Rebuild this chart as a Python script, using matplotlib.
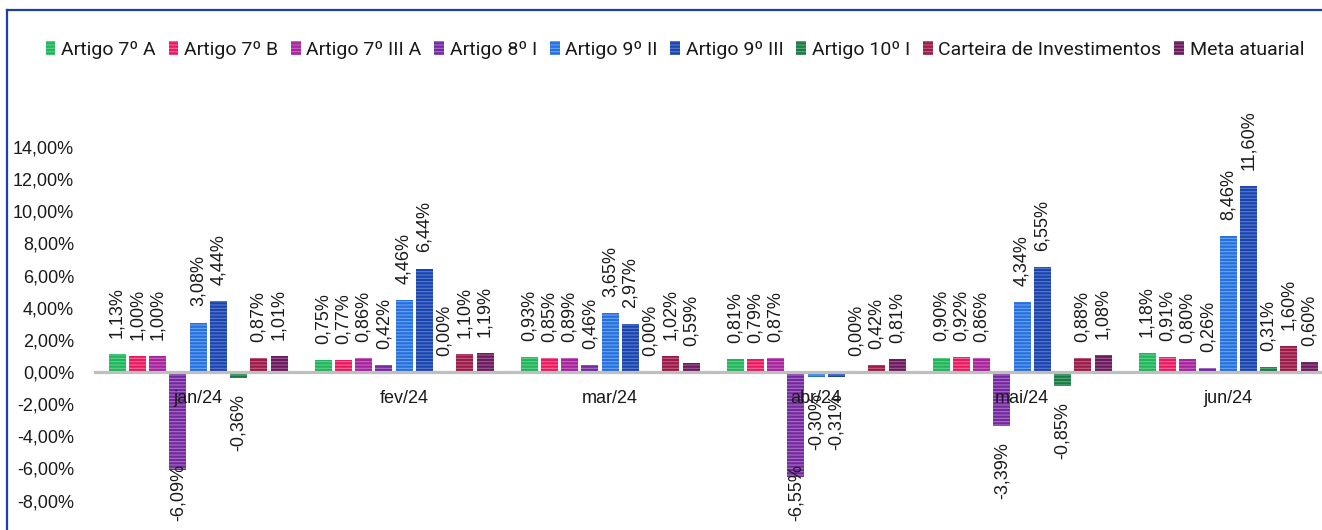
import numpy as np
import matplotlib
matplotlib.use("Agg")
import matplotlib.pyplot as plt
from matplotlib.patches import Patch
from matplotlib.lines import Line2D
from matplotlib.ticker import FuncFormatter

meses = ["jan/24", "fev/24", "mar/24", "abr/24", "mai/24", "jun/24"]
series = ["Artigo 7º A", "Artigo 7º B", "Artigo 7º III A", "Artigo 8º I", "Artigo 9º II",
          "Artigo 9º III", "Artigo 10º I", "Carteira de Investimentos", "Meta atuarial"]

art_7a = [1.13, 0.75, 0.93, 0.81, 0.90, 1.18]
art_7b = [1.00, 0.77, 0.85, 0.79, 0.92, 0.91]
art_7iiia = [1.00, 0.86, 0.89, 0.87, 0.86, 0.80]
art_8i = [-6.09, 0.42, 0.46, -6.55, -3.39, 0.26]
art_9ii = [3.08, 4.46, 3.65, -0.30, 4.34, 8.46]
art_9iii = [4.44, 6.44, 2.97, -0.31, 6.55, 11.60]
art_10i = [-0.36, 0.00, 0.00, 0.00, -0.85, 0.31]
carteira = [0.87, 1.10, 1.02, 0.42, 0.88, 1.60]
meta = [1.01, 1.19, 0.59, 0.81, 1.08, 0.60]

valores = [art_7a, art_7b, art_7iiia, art_8i, art_9ii, art_9iii, art_10i, carteira, meta]
cores = ["#22B45C", "#E9185F", "#A6239C", "#75289E", "#2470DE",
         "#1C44AE", "#1D7A45", "#9A1A48", "#6C1A5E"]
listras = ["#5FCF88", "#F26A98", "#C468BC", "#A273C4", "#6FA4EE",
           "#5A7CCC", "#5AA87B", "#BE5F80", "#985C8E"]

plt.rcParams["font.family"] = ["Liberation Sans", "DejaVu Sans"]
plt.rcParams["hatch.linewidth"] = 0.8
texto = "#1a1a1a"

W, H = 1322, 530
fig = plt.figure(figsize=(W / 100, H / 100), dpi=100)

x0_px, zero_px, top_px, step_px = 95, 372, 147, 206
ppu = (zero_px - top_px) / 14.0
ax = fig.add_axes([x0_px / W, 0, 1 - x0_px / W, (H - top_px) / H])
ax.set_xlim(-0.5, -0.5 + (W - x0_px) / step_px)
ax.set_ylim(-(H - zero_px) / ppu, 14)
ax.set_axisbelow(False)

x = np.arange(len(meses))
slot = 20.25 / step_px
larg = 17 / step_px
gap = 1.0
comp = 3.95
piso = ax.get_ylim()[0] + 0.15

for j, (vals, c, lc) in enumerate(zip(valores, cores, listras)):
    pos = x + (j - 4) * slot
    ax.bar(pos, vals, width=larg, color=c, edgecolor=lc, linewidth=0,
           hatch="-----", zorder=1)
    for px, v in zip(pos, vals):
        s = f"{v:.2f}%".replace(".", ",")
        if v >= 0:
            ax.text(px, v + gap, s, rotation=90, ha="center", va="bottom",
                    fontsize=13, color=texto, clip_on=False, zorder=4)
        else:
            yt = max(v - gap, piso + comp)
            ax.text(px, yt, s, rotation=90, ha="center", va="top",
                    fontsize=13, color=texto, clip_on=False, zorder=4)

ax.set_yticks(np.arange(-8, 15, 2))
ax.yaxis.set_major_formatter(FuncFormatter(lambda v, p: f"{v:.2f}%".replace(".", ",")))
ax.tick_params(axis="y", length=0, pad=15, labelsize=13, labelcolor=texto)
ax.set_xticks(x)
ax.set_xticklabels(meses)
ax.tick_params(axis="x", length=0, pad=13, labelsize=13, labelcolor=texto)

for s in ["top", "right", "left"]:
    ax.spines[s].set_visible(False)
ax.spines["bottom"].set_position(("data", 0))
ax.spines["bottom"].set_color("#BFBFBF")
ax.spines["bottom"].set_linewidth(2.3)
ax.spines["bottom"].set_zorder(3)
ax.patch.set_alpha(0)

handles = [Patch(facecolor=c, edgecolor=lc, linewidth=0, hatch="-----")
           for c, lc in zip(cores, listras)]
fig.legend(handles, series, loc="center", bbox_to_anchor=(675 / W, 1 - 50 / H),
           ncol=9, frameon=False, handlelength=0.5, handleheight=0.75,
           handletextpad=0.3, columnspacing=0.65,
           prop={"family": ["Liberation Sans Narrow", "Roboto", "DejaVu Sans"], "size": 14},
           labelcolor=texto)

# moldura azul
fig.add_artist(Line2D([7 / W, 7 / W], [0, 1 - 10 / H], color="#1F3FA8", lw=1.6,
                      transform=fig.transFigure))
fig.add_artist(Line2D([7 / W, 1], [1 - 10 / H, 1 - 10 / H], color="#1F3FA8", lw=1.6,
                      transform=fig.transFigure))

fig.savefig("out.png", dpi=100)
